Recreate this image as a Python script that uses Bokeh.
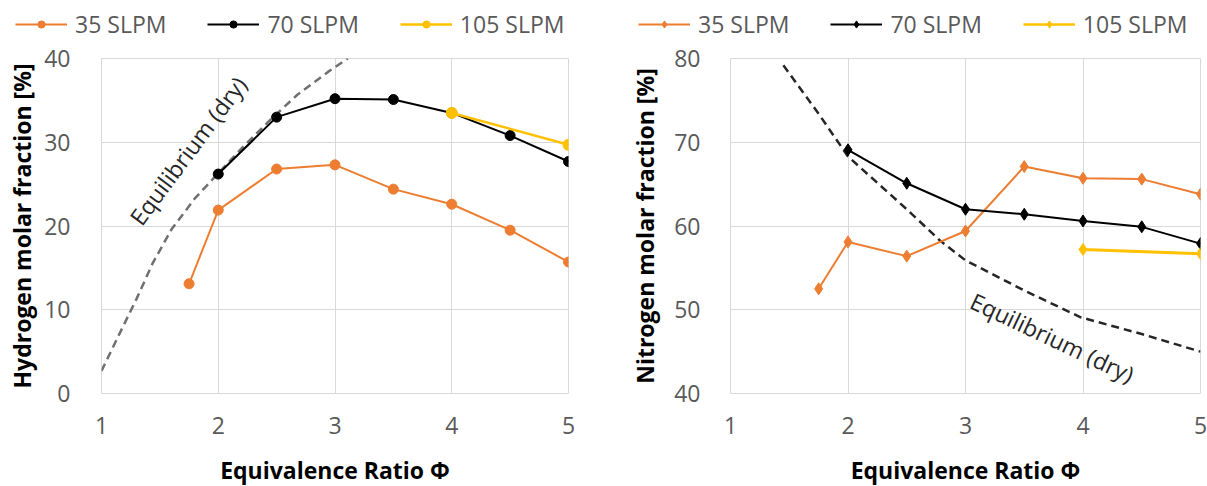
from bokeh.plotting import figure
from bokeh.layouts import row, column
from bokeh.models import Legend, LegendItem, Label, Range1d, FixedTicker
from bokeh.embed import file_html
from bokeh.resources import INLINE

# ---------------- data ----------------
phi_35 = [1.75, 2, 2.5, 3, 3.5, 4, 4.5, 5]
phi_70 = [2, 2.5, 3, 3.5, 4, 4.5, 5]
phi_105 = [4, 5]

h2_35 = [13.1, 21.9, 26.8, 27.3, 24.4, 22.6, 19.5, 15.7]
h2_70 = [26.2, 33.0, 35.2, 35.1, 33.5, 30.8, 27.7]
h2_105 = [33.5, 29.7]
eq_phi_h2 = [1.0, 1.16, 1.3, 1.44, 1.6, 1.8, 2.0, 2.23, 2.455, 2.68, 2.94, 3.11]
eq_h2 = [2.7, 7.3, 11.3, 15.6, 19.6, 23.3, 26.3, 29.7, 32.8, 35.7, 38.4, 40.0]

n2_35 = [52.5, 58.1, 56.4, 59.4, 67.1, 65.7, 65.6, 63.8]
n2_70 = [69.1, 65.1, 62.0, 61.4, 60.6, 59.9, 57.9]
n2_105 = [57.2, 56.7]
eq_phi_n2 = [1.45, 1.75, 2.0, 2.5, 2.78, 3.0, 3.5, 3.98, 4.5, 5.0]
eq_n2 = [79.2, 73.4, 68.3, 62.0, 58.3, 55.9, 52.3, 49.1, 47.1, 45.0]

series_labels = ["35 SLPM", "70 SLPM", "105 SLPM"]
x_ticks = [1, 2, 3, 4, 5]
h2_ticks = [0, 10, 20, 30, 40]
n2_ticks = [40, 50, 60, 70, 80]
x_title = "Equivalence Ratio Φ"
h2_title = "Hydrogen molar fraction [%]"
n2_title = "Nitrogen molar fraction [%]"
eq_label = "Equilibrium (dry)"

ORANGE = "#ED7D31"
BLACK = "#000000"
YELLOW = "#FFC000"
GRID = "#D9D9D9"
TICK = "#595959"
FONT = "Open Sans"
series_colors = [ORANGE, BLACK, YELLOW]
series_phi = [phi_35, phi_70, phi_105]


def make_fig(y0, y1, yticks, ytitle, border_left, frame_w, border_right,
             ylab_standoff, ytitle_standoff):
    p = figure(frame_width=frame_w, frame_height=335,
               min_border_left=border_left, min_border_right=border_right,
               min_border_top=18, min_border_bottom=92,
               x_range=Range1d(1, 5), y_range=Range1d(y0, y1),
               output_backend="svg", toolbar_location=None,
               background_fill_color="white", border_fill_color="white")
    p.outline_line_color = GRID
    p.outline_line_width = 1
    p.xaxis.ticker = FixedTicker(ticks=x_ticks)
    p.yaxis.ticker = FixedTicker(ticks=yticks)
    for ax in (p.xaxis[0], p.yaxis[0]):
        ax.axis_line_color = None
        ax.major_tick_line_color = None
        ax.minor_tick_line_color = None
        ax.major_label_text_font = FONT
        ax.major_label_text_font_size = "23px"
        ax.major_label_text_color = TICK
        ax.axis_label_text_font = FONT
        ax.axis_label_text_font_size = "23px"
        ax.axis_label_text_font_style = "bold"
        ax.axis_label_text_color = "#000000"
    p.xaxis.axis_label = x_title
    p.yaxis.axis_label = ytitle
    p.xaxis.major_label_standoff = 17
    p.xaxis.axis_label_standoff = 17
    p.yaxis.major_label_standoff = ylab_standoff
    p.yaxis.axis_label_standoff = ytitle_standoff
    p.xgrid.grid_line_color = GRID
    p.ygrid.grid_line_color = GRID
    p.xgrid.grid_line_width = 1
    p.ygrid.grid_line_width = 1
    return p


def add_series(p, xs, ys, color, marker, lw, size):
    p.line(xs, ys, line_color=color, line_width=lw)
    p.scatter(xs, ys, marker=marker, size=size, fill_color=color, line_color=color)


# ---------------- legend strip ----------------
# ranges chosen so the sample renderers' data lie outside the strip's view;
# only their legend swatches are visible
leg = figure(width=1206, height=40, min_border=0, x_range=Range1d(-1, 0),
             y_range=Range1d(-1, 0), output_backend="svg", toolbar_location=None,
             background_fill_color="white", border_fill_color="white")
leg.axis.visible = False
leg.grid.visible = False
leg.outline_line_color = None


def add_legend(marker, xloc, widths, values):
    items = []
    for lab, col, w, xs, ys in zip(series_labels, series_colors, widths, series_phi, values):
        ln = leg.line(xs, ys, line_color=col, line_width=w)
        sc = leg.scatter(xs, ys, marker=marker, size=8, fill_color=col, line_color=col)
        items.append(LegendItem(label=lab, renderers=[ln, sc]))
    lg = Legend(items=items, orientation="horizontal", location=(xloc, 0),
                padding=7, margin=0, spacing=41, label_standoff=8,
                glyph_width=52, glyph_height=18, label_height=18,
                label_text_font=FONT, label_text_font_size="23px",
                label_text_color=TICK, border_line_color=None,
                background_fill_alpha=0)
    leg.add_layout(lg)


add_legend("circle", 15, [2, 2, 2.5], [h2_35, h2_70, h2_105])
add_legend("diamond", 638, [2, 2, 2.5], [n2_35, n2_70, n2_105])

# ---------------- left: hydrogen ----------------
p1 = make_fig(0, 40, h2_ticks, h2_title, 101, 467, 58, 25, 3)
p1.line(eq_phi_h2, eq_h2, line_color="#707070", line_width=2.5, line_dash="8 5")
add_series(p1, phi_35, h2_35, ORANGE, "circle", 2, 10)
add_series(p1, phi_70, h2_70, BLACK, "circle", 2, 10)
add_series(p1, phi_105, h2_105, YELLOW, "circle", 2.5, 11)
p1.add_layout(Label(x=1.74, y=29.0, text=eq_label, angle=0.93,
                    text_align="center", text_baseline="middle",
                    text_font=FONT, text_font_size="23px", text_color="#262626"))

# ---------------- right: nitrogen ----------------
p2 = make_fig(40, 80, n2_ticks, n2_title, 102, 470, 8, 24, 10)
p2.line(eq_phi_n2, eq_n2, line_color="#262626", line_width=2.5, line_dash="8 5")
add_series(p2, phi_35, n2_35, ORANGE, "diamond", 2, 12)
add_series(p2, phi_70, n2_70, BLACK, "diamond", 2, 12)
add_series(p2, phi_105, n2_105, YELLOW, "diamond", 3, 12)
p2.add_layout(Label(x=3.74, y=46.7, text=eq_label, angle=-0.443,
                    text_align="center", text_baseline="middle",
                    text_font=FONT, text_font_size="23px", text_color="#262626"))

layout = column(leg, row(p1, p2, spacing=0), spacing=0)
open("out.html", "w").write(file_html(layout, INLINE))
